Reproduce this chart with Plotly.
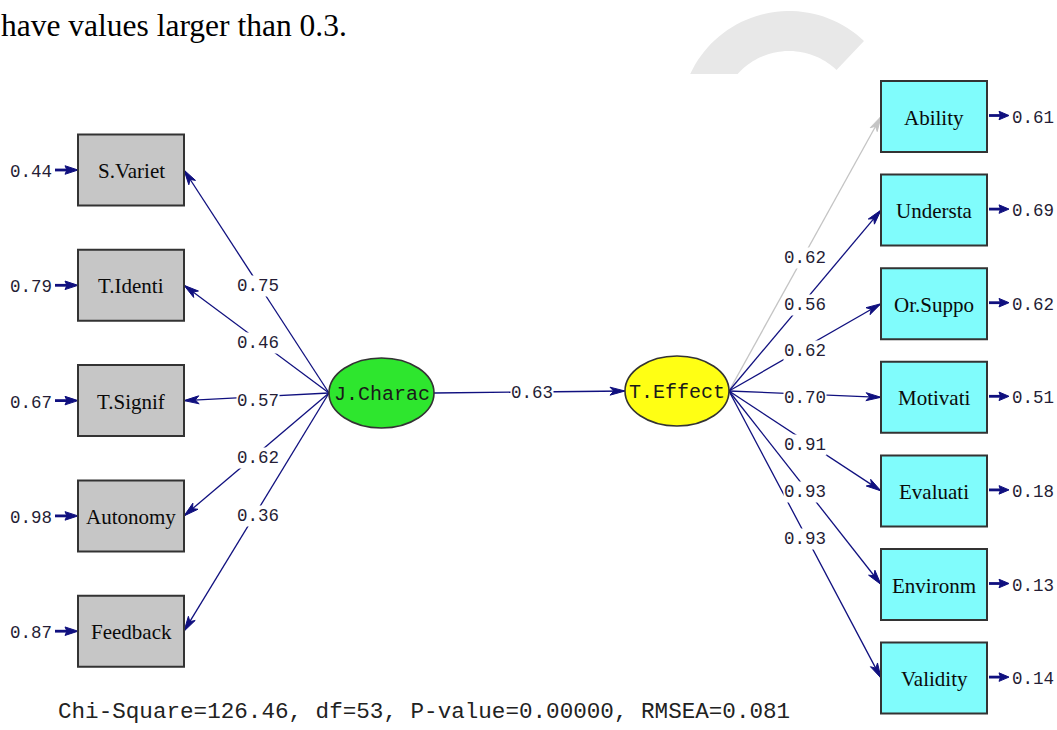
import numpy as np
import plotly.graph_objects as go

# ---------------- data ----------------
top_note = "have values larger than 0.3."
exo_name = "J.Charac"
endo_name = "T.Effect"
left_vars = ["S.Variet", "T.Identi", "T.Signif", "Autonomy", "Feedback"]
left_loadings = [0.75, 0.46, 0.57, 0.62, 0.36]
left_errors = [0.44, 0.79, 0.67, 0.98, 0.87]
right_vars = ["Ability", "Understa", "Or.Suppo", "Motivati", "Evaluati", "Environm", "Validity"]
right_loadings = [0.62, 0.56, 0.62, 0.70, 0.91, 0.93, 0.93]
right_errors = [0.61, 0.69, 0.62, 0.51, 0.18, 0.13, 0.14]
structural_coef = 0.63
fit_text = "Chi-Square=126.46, df=53, P-value=0.00000, RMSEA=0.081"

# ---------------- layout geometry ----------------
W, H = 1057, 730
NAVY = "#10107f"
GREY_PATH = "#c4c4c4"
LABEL_COL = "#251d35"
MONO = "Liberation Mono, Courier New, monospace"
SERIF = "Liberation Serif, Times New Roman, serif"

L_X0, L_X1 = 78, 184
R_X0, R_X1 = 881, 987
BOX_HALF = 35.5
L_TOP, L_STEP = 170, 115.3
R_TOP, R_STEP = 116.5, 93.6
JC = (381.5, 393.0, 52.5, 35.0)
TE = (677.0, 391.0, 52.0, 35.0)

left_c = [L_TOP + i * L_STEP for i in range(len(left_vars))]
right_c = [R_TOP + i * R_STEP for i in range(len(right_vars))]


def head(tip, frm, L=15.0, Wd=8.0, notch=0.25):
    tip = np.array(tip, float)
    frm = np.array(frm, float)
    d = tip - frm
    d = d / np.hypot(*d)
    n = np.array([-d[1], d[0]])
    base = tip - d * L
    p1 = base + n * Wd / 2
    p2 = base - n * Wd / 2
    pn = tip - d * L * (1 - notch)
    pts = [tip, p1, pn, p2, tip]
    return [p[0] for p in pts], [p[1] for p in pts]


fig = go.Figure()

line_x, line_y, head_x, head_y = [], [], [], []
grey_x, grey_y, ghead_x, ghead_y = [], [], [], []
err_lx, err_ly, err_hx, err_hy = [], [], [], []
annotations = []


def lab(x, y, txt, size=17.5, bg=None, color=LABEL_COL, font=MONO, xanchor="center"):
    d = dict(x=x, y=y, xref="x", yref="y", text=txt, showarrow=False,
             font=dict(family=font, size=size, color=color), xanchor=xanchor,
             yanchor="middle", borderpad=0)
    if bg:
        d["bgcolor"] = bg
    annotations.append(d)


# left loadings J.Charac -> indicators
sx, sy = JC[0] - JC[2], JC[1]
for i, (name, ld) in enumerate(zip(left_vars, left_loadings)):
    tx, ty = L_X1, left_c[i]
    line_x += [sx, tx, None]
    line_y += [sy, ty, None]
    hx, hy = head((tx, ty), (sx, sy))
    head_x += hx + [None]
    head_y += hy + [None]
    mx, my = (sx + tx) / 2, (sy + ty) / 2
    lab(mx + 1, my + 4, f"{ld:.2f}", bg="white")

# right loadings T.Effect -> indicators
sx, sy = TE[0] + TE[2], TE[1]
for i, (name, ld) in enumerate(zip(right_vars, right_loadings)):
    tx, ty = R_X0, right_c[i]
    hx, hy = head((tx, ty), (sx, sy))
    if i == 0:
        grey_x += [sx, tx, None]
        grey_y += [sy, ty, None]
        ghead_x += hx + [None]
        ghead_y += hy + [None]
    else:
        line_x += [sx, tx, None]
        line_y += [sy, ty, None]
        head_x += hx + [None]
        head_y += hy + [None]
    mx, my = (sx + tx) / 2, (sy + ty) / 2
    lab(mx, my + 4, f"{ld:.2f}", bg="white")

# structural path
sx, sy = JC[0] + JC[2], JC[1]
tx, ty = TE[0] - TE[2], TE[1]
line_x += [sx, tx, None]
line_y += [sy, ty, None]
hx, hy = head((tx, ty), (sx, sy))
head_x += hx + [None]
head_y += hy + [None]
lab((sx + tx) / 2 + 2, (sy + ty) / 2 + 1, f"{structural_coef:.2f}", bg="white")

# error arrows
for i, e in enumerate(left_errors):
    y = left_c[i]
    err_lx += [55, L_X0 - 6, None]
    err_ly += [y, y, None]
    hx, hy = head((L_X0, y), (55, y), L=13, Wd=8.5, notch=0.15)
    err_hx += hx + [None]
    err_hy += hy + [None]
    lab(31, y + 2, f"{e:.2f}")
for i, e in enumerate(right_errors):
    y = right_c[i] - 1
    err_lx += [R_X1 + 2, 1003, None]
    err_ly += [y, y, None]
    hx, hy = head((1009, y), (R_X1, y), L=10, Wd=8.5, notch=0.15)
    err_hx += hx + [None]
    err_hy += hy + [None]
    lab(1033, y + 2, f"{e:.2f}")

fig.add_trace(go.Scatter(x=grey_x, y=grey_y, mode="lines",
                         line=dict(color=GREY_PATH, width=1.3), hoverinfo="skip"))
fig.add_trace(go.Scatter(x=ghead_x, y=ghead_y, mode="lines", fill="toself",
                         fillcolor=GREY_PATH, line=dict(color=GREY_PATH, width=1),
                         hoverinfo="skip"))
fig.add_trace(go.Scatter(x=line_x, y=line_y, mode="lines",
                         line=dict(color=NAVY, width=1.3), hoverinfo="skip"))
fig.add_trace(go.Scatter(x=head_x, y=head_y, mode="lines", fill="toself",
                         fillcolor=NAVY, line=dict(color=NAVY, width=1), hoverinfo="skip"))
fig.add_trace(go.Scatter(x=err_lx, y=err_ly, mode="lines",
                         line=dict(color=NAVY, width=2.8), hoverinfo="skip"))
fig.add_trace(go.Scatter(x=err_hx, y=err_hy, mode="lines", fill="toself",
                         fillcolor=NAVY, line=dict(color=NAVY, width=1), hoverinfo="skip"))

shapes = []

# watermark arc (decorative)
cx, cy, Ro, Ri = 789, 120, 109, 69
a_o = np.linspace(np.radians(155), np.radians(46.5), 40)
a_i = np.linspace(np.radians(46.5), np.radians(138.2), 40)
px = list(cx + Ro * np.cos(a_o)) + list(cx + Ri * np.cos(a_i))
py = list(cy - Ro * np.sin(a_o)) + list(cy - Ri * np.sin(a_i))
path = "M " + " L ".join(f"{x:.1f},{y:.1f}" for x, y in zip(px, py)) + " Z"
shapes.append(dict(type="path", path=path, xref="x", yref="y", layer="below",
                   fillcolor="#e8e8e8", line=dict(width=0)))

# boxes
for i, name in enumerate(left_vars):
    c = left_c[i]
    shapes.append(dict(type="rect", xref="x", yref="y", x0=L_X0, x1=L_X1,
                       y0=c - BOX_HALF, y1=c + BOX_HALF, fillcolor="#c6c6c6",
                       line=dict(color="#333333", width=2)))
    lab((L_X0 + L_X1) / 2, c + 1, name, size=21, color="#0a0a0a", font=SERIF)
for i, name in enumerate(right_vars):
    c = right_c[i]
    shapes.append(dict(type="rect", xref="x", yref="y", x0=R_X0, x1=R_X1,
                       y0=c - BOX_HALF, y1=c + BOX_HALF, fillcolor="#80fcfc",
                       line=dict(color="#333333", width=2)))
    lab((R_X0 + R_X1) / 2, c + 1, name, size=21, color="#0a0a0a", font=SERIF)

# latent ellipses
for (ex, ey, rx, ry), col, name in [(JC, "#2ee62e", exo_name), (TE, "#ffff14", endo_name)]:
    shapes.append(dict(type="circle", xref="x", yref="y", x0=ex - rx, x1=ex + rx,
                       y0=ey - ry, y1=ey + ry, fillcolor=col,
                       line=dict(color="#333333", width=1.6)))
    lab(ex, ey + 1, name, size=20, color="#1a1a1a")

# texts
lab(0, 25, top_note, size=31.5, color="#000000", font=SERIF, xanchor="left")
lab(57, 712, fit_text, size=22.6, color="#222222", xanchor="left")

fig.update_layout(
    width=W, height=H, margin=dict(l=0, r=0, t=0, b=0),
    paper_bgcolor="white", plot_bgcolor="white", showlegend=False,
    xaxis=dict(range=[0, W], visible=False, fixedrange=True),
    yaxis=dict(range=[H, 0], visible=False, fixedrange=True),
    shapes=shapes, annotations=annotations,
)
fig.write_html("out.html", config={"displayModeBar": False},
               post_script="document.body.style.margin='0';document.body.style.overflow='hidden';")
